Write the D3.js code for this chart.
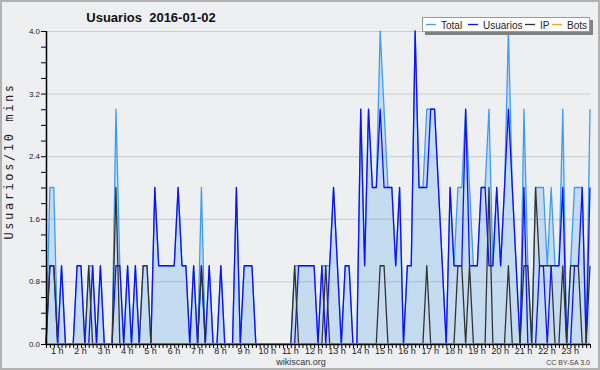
<!DOCTYPE html>
<html>
<head>
<meta charset="utf-8">
<script src="https://cdn.jsdelivr.net/npm/d3@7"></script>
<style>
body{margin:0;background:#eeeff1}
text{font-family:"Liberation Sans",Arial,sans-serif}
</style>
</head>
<body>
<script>
// chart values, one point every 10 minutes
var title = "Usuarios  2016-01-02"
var seriesNames = ["Total","Usuarios","IP","Bots"]
var seriesColors = ["#3d9df5","#0f0fff","#333333","#ffa31a"]
var hourLabels = ["1 h","2 h","3 h","4 h","5 h","6 h","7 h","8 h","9 h","10 h","11 h","12 h",
  "13 h","14 h","15 h","16 h","17 h","18 h","19 h","20 h","21 h","22 h","23 h"]
var yTickLabels = [0,0.8,1.6,2.4,3.2,4.0]

var total = [0,2,2,0,1,0,0,0,1,1, 0,1,1,0,1,0,0,0,3,1, 0,1,0,1,0,1,1,0,2,1,
  1,1,1,1,2,1,1,0,1,0, 2,0,1,0,0,1,0,0,0,2, 0,1,1,1,0,0,0,0,0,0,
  0,0,0,0,1,1,1,1,1,1, 0,1,1,1,2,1,0,1,1,0, 0,3,1,3,2,2,4,3,2,2,
  1,2,0,1,1,4,2,2,3,3, 3,2,1,0,2,1,2,2,3,2, 1,1,2,2,3,1,2,1,2,4,
  2,1,0,3,1,0,2,2,2,1, 2,1,1,3,0,1,2,2,2,0, 3]
var usuarios = [0,1,1,0,1,0,0,0,1,1, 0,0,1,0,1,0,0,0,1,1, 0,1,0,1,0,0,0,0,2,1,
  1,1,1,1,2,1,1,0,1,0, 1,0,1,0,0,1,0,0,0,2, 0,1,1,1,0,0,0,0,0,0,
  0,0,0,0,0,1,1,1,1,1, 0,1,0,1,2,1,0,1,1,0, 0,3,1,3,2,2,3,2,2,2,
  1,2,0,1,1,4,2,2,2,3, 3,2,1,0,2,1,1,1,3,1, 1,1,2,2,1,1,2,1,2,3,
  2,1,0,2,0,0,0,1,1,0, 1,1,1,2,0,0,1,1,2,0, 2]
var ip = [0,1,1,0,0,0,0,0,0,0, 0,1,0,0,0,0,0,0,2,0, 0,0,0,0,0,1,1,0,0,0,
  0,0,0,0,0,0,0,0,0,0, 1,0,0,0,0,0,0,0,0,0, 0,0,0,0,0,0,0,0,0,0,
  0,0,0,0,1,0,0,0,0,0, 0,0,1,0,0,0,0,0,0,0, 0,0,0,0,0,0,1,1,0,0,
  0,0,0,0,0,0,0,0,1,0, 0,0,0,0,0,0,1,1,0,1, 0,0,0,0,2,0,0,0,0,1,
  0,0,0,1,1,0,2,1,1,1, 1,0,0,1,0,1,1,1,0,0, 1]
var bots = [0,0,0,0,0,0,0,0,0,0, 0,0,0,0,0,0,0,0,0,0, 0,0,0,0,0,0,0,0,0,0,
  0,0,0,0,0,0,0,0,0,0, 0,0,0,0,0,0,0,0,0,0, 0,0,0,0,0,0,0,0,0,0,
  0,0,0,0,0,0,0,0,0,0, 0,0,0,0,0,0,0,0,0,0, 0,0,0,0,0,0,0,0,0,0,
  0,0,0,0,0,0,0,0,0,0, 0,0,0,0,0,0,0,0,0,0, 0,0,0,0,0,0,0,0,0,0,
  0,0,0,0,0,0,0,0,0,0, 0,0,0,0,0,0,0,0,0,0, 0]

var width = 600
var height = 370
var pLeft = 46, pRight = 590, pTop = 31, pBottom = 344

var svg = d3.select("body").append("svg")
  .attr("width",width)
  .attr("height",height)

svg.append("rect").attr("x",1).attr("y",1).attr("width",width-2).attr("height",height-2)
  .attr("fill","#eeeff1").attr("stroke","#b2b2b2").attr("stroke-width",2)

var x = d3.scaleLinear().domain([0,total.length-1]).range([pLeft,pRight])
var y = d3.scaleLinear().domain([0,4]).range([pBottom,pTop])

// area under total
svg.append("path")
  .datum(total)
  .attr("fill","#c5dcf0")
  .attr("d",d3.area().x(function(d,i){return x(i)}).y0(y(0)).y1(function(d){return y(d)}))

// grid
svg.append("g")
  .selectAll("line")
  .data(yTickLabels.slice(1))
  .enter().append("line")
  .attr("x1",pLeft).attr("x2",pRight)
  .attr("y1",function(d){return y(d)+0.5}).attr("y2",function(d){return y(d)+0.5})
  .attr("stroke","#000").attr("stroke-opacity",0.15)

var series = [total,usuarios,ip,bots]
var line = d3.line().x(function(d,i){return x(i)}).y(function(d){return y(d)})
for(var s in series){
  svg.append("path")
    .datum(series[s])
    .attr("fill","none")
    .attr("stroke",seriesColors[s])
    .attr("stroke-width",1.3)
    .attr("stroke-linejoin","round")
    .attr("d",line)
}

// axes
var yAxis = svg.append("g").attr("transform","translate("+pLeft+",0)")
  .call(d3.axisLeft(y).tickValues(d3.range(0,4.001,0.2)).tickSize(5).tickFormat(""))
yAxis.select(".domain").remove()
yAxis.append("line").attr("x1",0.5).attr("x2",0.5).attr("y1",pTop).attr("y2",pBottom+1).attr("stroke","#000").attr("stroke-width",1.5)
yAxis.selectAll("line").attr("stroke","#000")
svg.append("g").selectAll("text").data(yTickLabels).enter().append("text")
  .attr("x",pLeft-6).attr("y",function(d){return y(d)+3})
  .attr("text-anchor","end").attr("font-size","8px").attr("fill","#222")
  .text(function(d){return d.toFixed(1)})

var xAxis = svg.append("g").attr("transform","translate(0,"+pBottom+")")
  .call(d3.axisBottom(x).tickValues(d3.range(0,total.length)).tickSize(4).tickFormat(""))
xAxis.select(".domain").remove()
xAxis.append("line").attr("x1",pLeft).attr("x2",pRight).attr("y1",0.5).attr("y2",0.5).attr("stroke","#000").attr("stroke-width",1.5)
xAxis.selectAll("line").attr("stroke","#000")
svg.append("g").selectAll("text").data(hourLabels).enter().append("text")
  .attr("x",function(d,i){return x(6*(i+1))-12})
  .attr("y",pBottom+10)
  .attr("text-anchor","middle").attr("font-size","9px").attr("fill","#222")
  .text(function(d){return d})

// titles
svg.append("text").text(title).attr("x",151).attr("y",22)
  .attr("text-anchor","middle").attr("font-size","13px").attr("font-weight","bold")
  .style("white-space","pre").attr("fill","#111")
svg.append("text").text("Usuarios/10 mins")
  .attr("transform","translate(13,161) rotate(-90)")
  .attr("text-anchor","middle").attr("font-size","12px")
  .style("font-family","'DejaVu Sans Mono',monospace").style("letter-spacing","2.6px").attr("fill","#222")
svg.append("text").text("wikiscan.org").attr("x",301).attr("y",365)
  .attr("text-anchor","middle").attr("font-size","9px").attr("fill","#333")
svg.append("text").text("CC BY-SA 3.0").attr("x",590).attr("y",365)
  .attr("text-anchor","end").attr("font-size","7px").attr("fill","#444")

// legend
var legendX = [426,468,525,552]
var lg = svg.append("g")
lg.append("rect").attr("x",425).attr("y",20).attr("width",168).attr("height",15).attr("fill","#808080")
lg.append("rect").attr("x",422.5).attr("y",17.5).attr("width",167).attr("height",14).attr("fill","#fff").attr("stroke","#999")
for(var s in seriesNames){
  lg.append("line").attr("x1",legendX[s]).attr("x2",legendX[s]+10).attr("y1",24.5).attr("y2",24.5)
    .attr("stroke",seriesColors[s]).attr("stroke-width",1.3)
  lg.append("text").text(seriesNames[s]).attr("x",legendX[s]+15).attr("y",28.5)
    .attr("font-size","10px").attr("fill","#222")
}
</script>
</body>
</html>
